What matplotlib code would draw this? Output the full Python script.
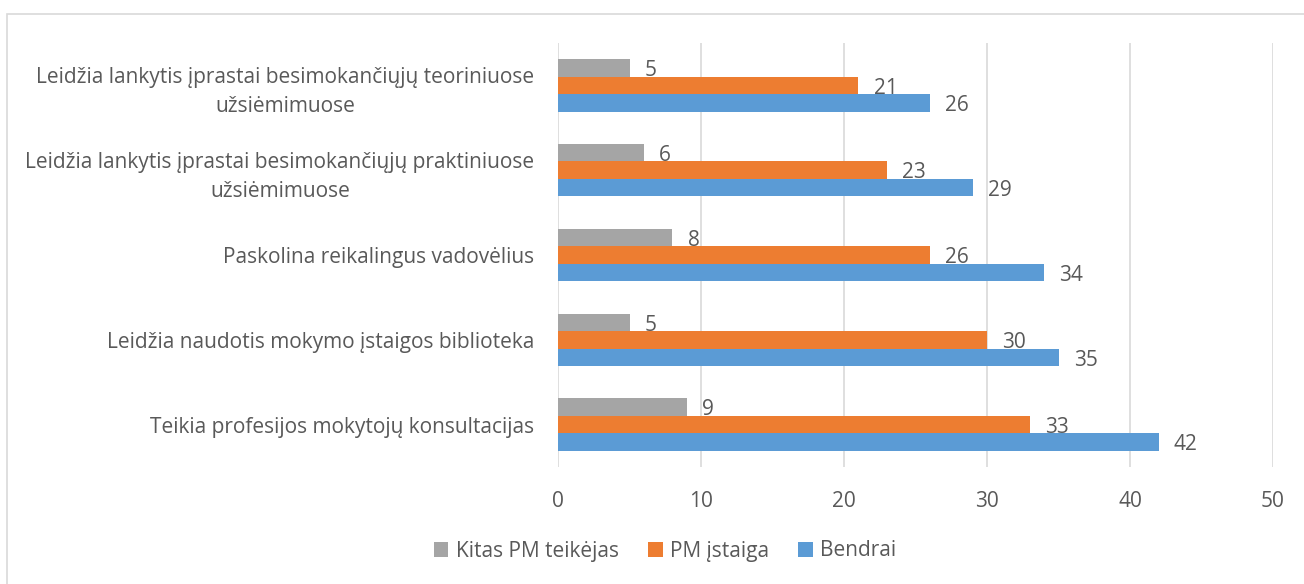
import matplotlib
matplotlib.use("Agg")
import matplotlib.pyplot as plt
from matplotlib.patches import Rectangle
import numpy as np

categories = [
    "Leidžia lankytis įprastai besimokančiųjų teoriniuose\nužsiėmimuose",
    "Leidžia lankytis įprastai besimokančiųjų praktiniuose\nužsiėmimuose",
    "Paskolina reikalingus vadovėlius",
    "Leidžia naudotis mokymo įstaigos biblioteka",
    "Teikia profesijos mokytojų konsultacijas",
]
series_names = ["Kitas PM teikėjas", "PM įstaiga", "Bendrai"]
kitas = [5, 6, 8, 5, 9]
pm_istaiga = [21, 23, 26, 30, 33]
bendrai = [26, 29, 34, 35, 42]
colors = ["#A5A5A5", "#ED7D31", "#5B9BD5"]
xticks = [0, 10, 20, 30, 40, 50]

plt.rcParams['font.family'] = ['Open Sans', 'DejaVu Sans']
text_color = "#595959"
fs = 15

fig = plt.figure(figsize=(13.04, 5.84), dpi=100)
ax = fig.add_axes([558/1304, 1-467/584, (1273-558)/1304, (467-43)/584])

y = np.arange(len(categories))
h = 0.206
offsets = [-h, 0, h]
for vals, off, col, name in zip([kitas, pm_istaiga, bendrai], offsets, colors, series_names):
    bars = ax.barh(y + off, vals, height=h, color=col, label=name, zorder=3)
    for b, v in zip(bars, vals):
        ax.annotate(str(v), xy=(v, b.get_y() + b.get_height()/2), xytext=(11, -2),
                    textcoords="offset points", va="center", ha="left",
                    fontsize=fs, color=text_color)

ax.set_ylim(len(categories)-0.5, -0.5)
ax.set_xlim(0, 50)
ax.set_xticks(xticks)
ax.set_yticks(y)
ax.set_yticklabels(categories, multialignment="center", linespacing=1.5)
ax.tick_params(axis="both", length=0, labelsize=fs, colors=text_color)
ax.tick_params(axis="x", pad=17)
ax.tick_params(axis="y", pad=17)
ax.grid(axis="x", color="#D9D9D9", lw=1.2, zorder=0)
for s in ax.spines.values():
    s.set_visible(False)

leg = fig.legend(loc="center", bbox_to_anchor=(665/1304, 1-551/584), ncol=3, frameon=False,
                 fontsize=fs, handlelength=0.7, handleheight=0.7, columnspacing=1.4,
                 handletextpad=0.35)
for t in leg.get_texts():
    t.set_color(text_color)

fig.patches.append(Rectangle((7/1304, -0.1), 1.2, 1-14/584+0.1, transform=fig.transFigure,
                             fill=False, edgecolor="#D9D9D9", lw=1.2))

fig.savefig("out.png", dpi=100)
